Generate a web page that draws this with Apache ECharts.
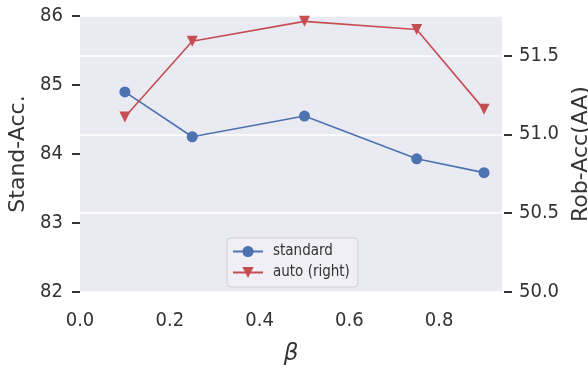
<!DOCTYPE html>
<html><head><meta charset="utf-8">
<script src="https://cdn.jsdelivr.net/npm/echarts@6/dist/echarts.min.js"></script>
<style>html,body{margin:0;padding:0;background:#fff}#c{width:588px;height:368px}</style>
</head><body><div id="c"></div>
<script>
var betas = [0.1, 0.25, 0.5, 0.75, 0.9];
var standardAcc = [84.90, 84.25, 84.55, 83.93, 83.73];
var autoRobAcc = [51.11, 51.59, 51.716, 51.664, 51.158];
var leftTicks = [82, 83, 84, 85, 86];
var rightTicks = [50.0, 50.5, 51.0, 51.5];

var FONT = 'DejaVu Sans';
var CFONT = "'DejaVu Sans Condensed', 'DejaVu Sans'";
var chart = echarts.init(document.getElementById('c'));
var tri = 'path://M0,0 L10,0 L5,10 Z';
chart.setOption({
  animation: false,
  textStyle: {fontFamily: FONT},
  grid: {left: 80, right: 86, top: 16, bottom: 76, show: true, backgroundColor: '#EAEAF2', borderWidth: 0,
    containLabel: false, outerBoundsMode: 'none'},
  legend: {
    left: 227, top: 238, orient: 'vertical', itemGap: 6, itemWidth: 30, itemHeight: 14,
    backgroundColor: '#EFEFF5', borderColor: '#cfcfd6', borderWidth: 1, borderRadius: 4,
    padding: [6, 8, 7, 5],
    textStyle: {fontFamily: CFONT, fontSize: 15, color: '#333', padding: [0, 0, 0, 5]},
    data: ['standard', 'auto (right)']
  },
  xAxis: {
    type: 'value', min: 0, max: 0.94, interval: 0.2,
    name: 'β', nameLocation: 'middle', nameGap: 51,
    nameTextStyle: {fontFamily: FONT, fontSize: 23, fontStyle: 'italic', color: '#333'},
    axisLine: {show: false}, axisTick: {show: false}, splitLine: {show: false},
    axisLabel: {fontFamily: CFONT, fontSize: 20, color: '#333', margin: 19, showMaxLabel: false,
      formatter: function(v){return v.toFixed(1);}}
  },
  yAxis: [{
    type: 'value', min: 82, max: 86, interval: 1, offset: 2,
    name: 'Stand-Acc.', nameLocation: 'middle', nameGap: 46, nameRotate: 90,
    nameTextStyle: {fontFamily: FONT, fontSize: 22, color: '#333'},
    axisLine: {show: false}, splitLine: {show: false},
    axisTick: {show: true, length: 8, lineStyle: {color: '#333', width: 2}},
    axisLabel: {fontFamily: CFONT, fontSize: 20, color: '#333', margin: 15,
      formatter: function(v){return leftTicks.indexOf(v) >= 0 ? String(v) : '';}}
  }, {
    type: 'value', min: 50, max: 51.75, interval: 0.5, position: 'right', offset: 2,
    name: 'Rob-Acc(AA)', nameLocation: 'middle', nameGap: 63, nameRotate: 90,
    nameTextStyle: {fontFamily: FONT, fontSize: 22, color: '#333'},
    axisLine: {show: false},
    splitLine: {show: true, lineStyle: {color: '#ffffff', width: 1.5}},
    axisTick: {show: true, length: 8, lineStyle: {color: '#333', width: 2}},
    axisLabel: {fontFamily: CFONT, fontSize: 20, color: '#333', margin: 15, showMaxLabel: false,
      formatter: function(v){return rightTicks.indexOf(v) >= 0 ? v.toFixed(1) : '';}}
  }],
  series: [{
    name: 'standard', type: 'line', yAxisIndex: 0,
    data: betas.map(function(b,i){return [b, standardAcc[i]];}),
    symbol: 'circle', symbolSize: 11,
    lineStyle: {color: '#4C72B0', width: 1.6},
    itemStyle: {color: '#4C72B0'}
  }, {
    name: 'auto (right)', type: 'line', yAxisIndex: 1,
    data: betas.map(function(b,i){return [b, autoRobAcc[i]];}),
    symbol: tri, symbolSize: [11, 11],
    lineStyle: {color: '#C44E52', width: 1.6},
    itemStyle: {color: '#C44E52'}
  }]
});
</script></body></html>
